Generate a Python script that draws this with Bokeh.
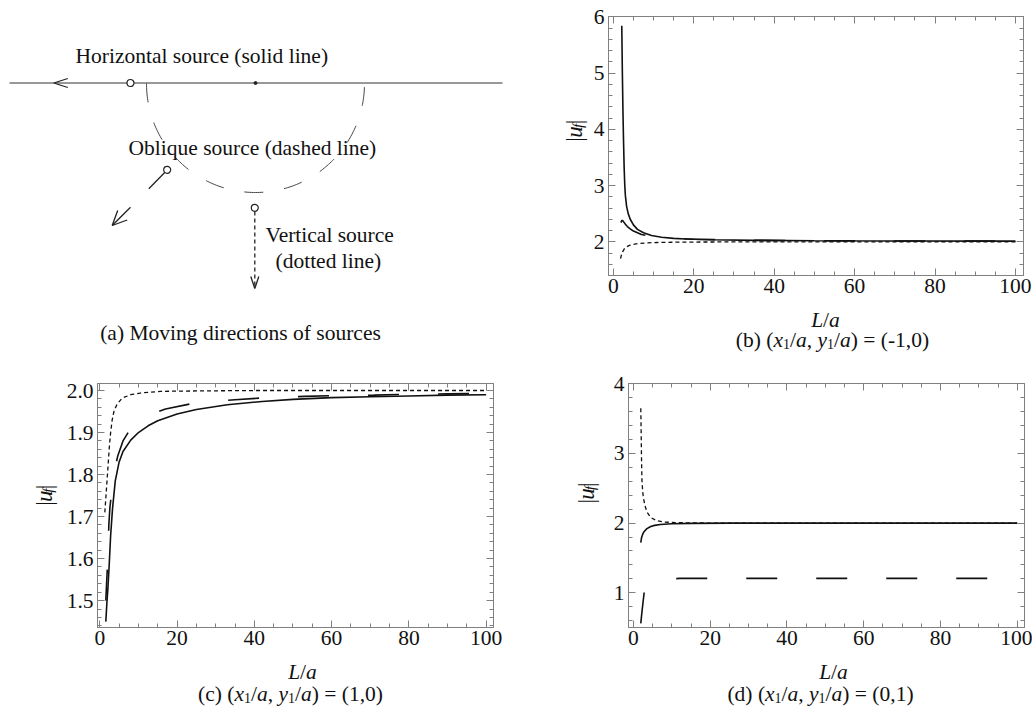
import numpy as np
from bokeh.plotting import figure
from bokeh.models import (Range1d, LinearAxis, SingleIntervalTicker,
                          PrintfTickFormatter, CustomJSTickFormatter)
from bokeh.layouts import row, column
from bokeh.embed import file_html
from bokeh.resources import INLINE
from bokeh.core.properties import value

FONT = "Liberation Serif"
GRAY = "#808080"
INK = "#111111"
FS = 21.5
SUB = 14
YFS = 23
YSUB = 15

# ---------------- data: panel (b) (x1/a, y1/a) = (-1,0) ----------------
b_solid_L = [2.1, 2.25, 2.4, 2.55, 2.7, 2.85, 3.0, 3.3, 3.7, 4.2, 5.0, 6.0, 7.5, 9.5, 12, 15, 18, 25, 35, 50, 70, 100]
b_solid_u = [5.84, 5.0, 4.3, 3.75, 3.3, 3.0, 2.82, 2.63, 2.50, 2.40, 2.30, 2.22, 2.16, 2.11, 2.08, 2.06, 2.05, 2.035, 2.025, 2.018, 2.014, 2.012]
b_dash_L = [1.9, 2.05, 2.2, 2.4, 2.7, 3.0, 3.5, 4.2, 5.0, 6.0, 7.0, 8.0, 9.5, 12, 15, 20, 30, 45, 70, 100]
b_dash_u = [2.34, 2.37, 2.38, 2.37, 2.34, 2.31, 2.27, 2.23, 2.19, 2.16, 2.13, 2.115, 2.095, 2.075, 2.06, 2.045, 2.03, 2.02, 2.014, 2.011]
b_dot_L = [1.8, 2.0, 2.3, 2.7, 3.2, 4.0, 5.0, 6.5, 8.5, 11, 15, 20, 30, 50, 100]
b_dot_u = [1.70, 1.76, 1.82, 1.87, 1.905, 1.935, 1.955, 1.97, 1.98, 1.987, 1.992, 1.995, 1.997, 1.999, 2.0]

# ---------------- data: panel (c) (x1/a, y1/a) = (1,0) ----------------
c_solid_L = [1.55, 1.8, 2.1, 2.4, 2.8, 3.3, 4.0, 5.0, 6.0, 8.0, 10, 12.5, 15, 20, 25, 33, 42, 50, 60, 70, 80, 90, 100]
c_solid_u = [1.45, 1.49, 1.53, 1.58, 1.655, 1.72, 1.785, 1.83, 1.855, 1.882, 1.90, 1.916, 1.928, 1.944, 1.955, 1.966, 1.974, 1.979, 1.983, 1.985, 1.987, 1.989, 1.99]
c_dash_L = [1.55, 1.8, 2.0, 2.33, 2.6, 3.0, 3.8, 4.66, 6.0, 8.2, 10, 12, 17, 25, 35, 43, 53, 61, 71, 79, 90, 100]
c_dash_u = [1.50, 1.55, 1.586, 1.679, 1.72, 1.754, 1.81, 1.845, 1.88, 1.913, 1.928, 1.94, 1.956, 1.971, 1.978, 1.983, 1.986, 1.988, 1.989, 1.991, 1.992, 1.993]
c_dot_L = [1.3, 1.6, 1.9, 2.2, 2.5, 2.8, 3.2, 3.7, 4.5, 5.8, 8, 10.5, 15.7, 25, 40, 100]
c_dot_u = [1.71, 1.75, 1.79, 1.83, 1.87, 1.90, 1.93, 1.952, 1.968, 1.982, 1.99, 1.994, 1.998, 1.999, 2.0, 2.0]

# ---------------- data: panel (d) (x1/a, y1/a) = (0,1) ----------------
d_solid_L = [1.9, 2.1, 2.4, 2.8, 3.5, 4.5, 5.5, 7, 10, 15, 25, 100]
d_solid_u = [1.72, 1.79, 1.84, 1.88, 1.92, 1.95, 1.967, 1.98, 1.99, 1.996, 1.999, 2.0]
d_dash_L = [1.9, 2.2, 2.5, 2.8, 3.2, 3.8, 4.5, 5.5, 7, 9, 12, 20, 50, 100]
d_dash_u = [0.56, 0.72, 0.87, 1.01, 1.08, 1.13, 1.16, 1.18, 1.19, 1.197, 1.205, 1.205, 1.205, 1.205]
d_dot_L = [1.9, 2.0, 2.1, 2.2, 2.4, 2.6, 3.0, 3.5, 4.5, 6, 8, 12, 20, 100]
d_dot_u = [3.65, 3.3, 2.9, 2.62, 2.45, 2.36, 2.25, 2.16, 2.08, 2.035, 2.015, 2.005, 2.0, 2.0]

# ---------------- schematic (a), in panel pixels (y down) ----------------
horiz_line_x = [9, 502]
horiz_line_y = [82.5, 82.5]
centre_dot = (255, 82.5)
arc_centre = (255, 83)
arc_radius = 109
src_circles_x = [130, 166.7, 254.3]
src_circles_y = [82.5, 169.3, 207.3]
horiz_head_x = [67.3, 53.3, 67.3]
horiz_head_y = [78.0, 82.5, 87.0]
obl_seg1_x = [164.0, 148.3]
obl_seg1_y = [172.3, 188.3]
obl_shaft_x = [130.0, 111.7]
obl_shaft_y = [206.7, 225.0]
obl_head_x = [117.2, 111.7, 126.7]
obl_head_y = [210.0, 225.0, 219.5]
vert_line_x = [254.3, 254.3]
vert_line_y = [211.0, 287.0]
vert_head_x = [250.3, 254.3, 258.3]
vert_head_y = [276.0, 288.0, 276.0]
diag_texts = ["Horizontal source (solid line)", "Oblique source (dashed line)",
              "Vertical source", "(dotted line)"]
diag_text_x = [75, 128, 265, 275]
diag_text_y = [55, 147, 234, 260]
caption_a = "(a) Moving directions of sources"

# ---------------- helpers ----------------
W_REG = {' ': 0.25, '(': 0.333, ')': 0.333, ',': 0.25, '-': 0.333, '/': 0.278,
         '=': 0.564, '|': 0.2, 'a': 0.444, 'b': 0.5, 'c': 0.444, 'd': 0.5}
for _d in "0123456789":
    W_REG[_d] = 0.5
W_IT = {'x': 0.444, 'y': 0.444, 'a': 0.5, 'L': 0.556, 'u': 0.5, 'f': 0.278}


def tw(s, italic, size):
    tab = W_IT if italic else W_REG
    return sum(tab.get(ch, W_REG.get(ch, 0.5)) for ch in s) * size


def blank(w, h, flip=True):
    p = figure(width=w, height=h, x_range=Range1d(0, w),
               y_range=Range1d(h, 0) if flip else Range1d(0, h),
               output_backend="svg", toolbar_location=None, title=None,
               x_axis_type=None, y_axis_type=None,
               min_border_left=0, min_border_right=0, min_border_top=0, min_border_bottom=0)
    p.outline_line_color = None
    p.background_fill_color = "white"
    p.border_fill_color = "white"
    return p


def piece(p, x, y, t, it, sz, angle=0.0):
    p.text(x=[x], y=[y], text=[t], angle=angle, text_font=value(FONT),
           text_font_size=value(f"{sz}px"),
           text_font_style=value("italic" if it else "normal"),
           text_color=INK, text_align="left", text_baseline="alphabetic")


def rich_h(p, pieces, cx, base_y):
    # y axis points down (flipped blank figure)
    total = sum(tw(t, it, sz) for t, it, sz, dy in pieces)
    x = cx - total / 2
    for t, it, sz, dy in pieces:
        piece(p, x, base_y + dy, t, it, sz)
        x += tw(t, it, sz)


def rich_v(p, pieces, xb, cy):
    # y axis points up (non flipped blank figure), text reads bottom to top
    total = sum(tw(t, it, sz) for t, it, sz, dy in pieces)
    y = cy - total / 2
    for t, it, sz, dy in pieces:
        piece(p, xb + dy, y, t, it, sz, angle=np.pi / 2)
        y += tw(t, it, sz)


def caption_pieces(tag, val):
    return [(f"({tag}) (", False, FS, 0), ("x", True, FS, 0), ("1", False, SUB, 4),
            ("/", False, FS, 0), ("a", True, FS, 0), (", ", False, FS, 0),
            ("y", True, FS, 0), ("1", False, SUB, 4), ("/", False, FS, 0),
            ("a", True, FS, 0), (f") = {val}", False, FS, 0)]


LA_PIECES = [("L", True, FS, 0), ("/", False, FS, 0), ("a", True, FS, 0)]
UF_PIECES = [("|", False, YFS, 0), ("u", True, YFS, 0), ("f", True, YSUB, 3), ("|", False, YFS, 0)]


def make_panel(width, height, bl, br, bt, bb, xr, yr, yint, yfmt):
    p = figure(width=width, height=height, x_range=Range1d(*xr), y_range=Range1d(*yr),
               output_backend="svg", toolbar_location=None, title=None,
               x_axis_type=None, y_axis_type=None,
               min_border_left=bl, min_border_right=br, min_border_top=bt, min_border_bottom=bb)
    p.outline_line_color = GRAY
    p.background_fill_color = "white"
    p.border_fill_color = "white"
    for loc in ["below", "left", "above", "right"]:
        if loc in ("below", "above"):
            tk = SingleIntervalTicker(interval=20, num_minor_ticks=4)
        else:
            tk = SingleIntervalTicker(interval=yint, num_minor_ticks=5)
        ax = LinearAxis(ticker=tk)
        ax.axis_line_color = GRAY
        ax.major_tick_line_color = GRAY
        ax.minor_tick_line_color = GRAY
        ax.major_tick_in = 7
        ax.major_tick_out = 0
        ax.minor_tick_in = 4
        ax.minor_tick_out = 0
        if loc in ("below", "left"):
            ax.major_label_text_font = FONT
            ax.major_label_text_font_size = f"{FS}px"
            ax.major_label_text_color = INK
            ax.major_label_standoff = 4 if loc == "left" else 3
            if loc == "left" and yfmt:
                ax.formatter = PrintfTickFormatter(format=yfmt)
        else:
            ax.formatter = CustomJSTickFormatter(code="return ''")
            ax.major_label_text_font_size = "1px"
            ax.major_label_standoff = 0
        p.add_layout(ax, loc)
    return p


def add_series(p, sL, su, dL, du, oL, ou):
    p.line(sL, su, line_color=INK, line_width=1.6)
    p.line(dL, du, line_color=INK, line_width=1.6, line_dash="31 39")
    p.line(oL, ou, line_color=INK, line_width=1.3, line_dash="4 3")


# ---------------- panel (a) ----------------
pa = blank(540, 355)
pa.line(horiz_line_x, horiz_line_y, line_color="#333333", line_width=1.2)
theta = np.linspace(0, np.pi, 181)
pa.line(arc_centre[0] - arc_radius * np.cos(theta), arc_centre[1] + arc_radius * np.sin(theta),
        line_color="#444444", line_width=1.0, line_dash="19 21")
pa.scatter([centre_dot[0]], [centre_dot[1]], size=3, color="#222222")
pa.line(horiz_head_x, horiz_head_y, line_color="#222222", line_width=1.3)
pa.line(obl_seg1_x, obl_seg1_y, line_color="#222222", line_width=1.3)
pa.line(obl_shaft_x, obl_shaft_y, line_color="#222222", line_width=1.3)
pa.line(obl_head_x, obl_head_y, line_color="#222222", line_width=1.3)
pa.line(vert_line_x, vert_line_y, line_color="#222222", line_width=1.3, line_dash="4 3")
pa.line(vert_head_x, vert_head_y, line_color="#222222", line_width=1.3)
pa.scatter(src_circles_x, src_circles_y, size=7, fill_color="white", line_color="#222222", line_width=1.2)
pa.text(x=diag_text_x, y=diag_text_y, text=diag_texts, text_font=value(FONT),
        text_font_size=value(f"{FS}px"), text_baseline="middle", text_align="left", text_color=INK)
pa.text(x=[240], y=[332], text=[caption_a], text_font=value(FONT),
        text_font_size=value(f"{FS}px"), text_baseline="middle", text_align="center", text_color=INK)

# ---------------- panel (b) ----------------
ylab_b = blank(50, 303, flip=False)
rich_v(ylab_b, UF_PIECES, 34, 169)
pb = make_panel(442, 303, 16, 9, 16, 28, (-1.2, 102), (1.4, 6.005), 1, None)
add_series(pb, b_solid_L, b_solid_u, b_dash_L, b_dash_u, b_dot_L, b_dot_u)
cap_b = blank(492, 52)
rich_h(cap_b, LA_PIECES, 285, 16)
rich_h(cap_b, caption_pieces("b", "(-1,0)"), 292, 36)
block_b = column(row(ylab_b, pb), cap_b)

# ---------------- panel (c) ----------------
ylab_c = blank(61, 300, flip=False)
rich_v(ylab_c, UF_PIECES, 44, 162)
pc = make_panel(479, 300, 36, 47, 28, 28, (-0.6, 101.9), (1.436, 2.0167), 0.1, "%.1f")
add_series(pc, c_solid_L, c_solid_u, c_dash_L, c_dash_u, c_dot_L, c_dot_u)
cap_c = blank(540, 51)
rich_h(cap_c, LA_PIECES, 302, 16)
rich_h(cap_c, caption_pieces("c", "(1,0)"), 290, 38)
block_c = column(row(ylab_c, pc), cap_c)

# ---------------- panel (d) ----------------
ylab_d = blank(68, 300, flip=False)
rich_v(ylab_d, UF_PIECES, 46, 165)
pd_ = make_panel(424, 300, 20, 8, 28, 28, (-1.3, 101.9), (0.5, 4.005), 1, None)
add_series(pd_, d_solid_L, d_solid_u, d_dash_L, d_dash_u, d_dot_L, d_dot_u)
cap_d = blank(492, 51)
rich_h(cap_d, LA_PIECES, 293, 16)
rich_h(cap_d, caption_pieces("d", "(0,1)"), 280, 38)
block_d = column(row(ylab_d, pd_), cap_d)

layout = column(row(pa, block_b), row(block_c, block_d))
open("out.html", "w").write(file_html(layout, INLINE))
